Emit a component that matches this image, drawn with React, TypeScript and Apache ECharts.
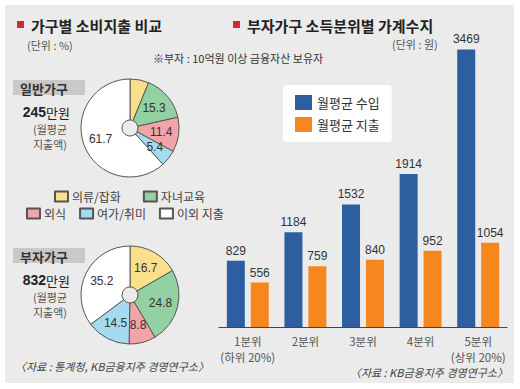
import React, { useEffect, useRef } from "react";
import * as echarts from "echarts";

const pieCategories = ["의류/잡화", "자녀교육", "외식", "여가/취미", "이외 지출"];
const pieColors = ["#fbe08c", "#93d0a2", "#f2a4a8", "#a6daf1", "#ffffff"];
const normalHousehold = [6.2, 15.3, 11.4, 5.4, 61.7];
const richHousehold = [16.7, 24.8, 8.8, 14.5, 35.2];

const quintiles = ["1분위", "2분위", "3분위", "4분위", "5분위"];
const quintileNotes = ["(하위 20%)", "", "", "", "(상위 20%)"];
const incomeSeriesName = "월평균 수입";
const spendSeriesName = "월평균 지출";
const income = [829, 1184, 1532, 1914, 3469];
const spending = [556, 759, 840, 952, 1054];

const KR = "'Noto Sans CJK KR', sans-serif";
const NUM = "'Liberation Sans Narrow', 'Liberation Sans', Arial, sans-serif";

export default function App() {
  const ref = useRef<HTMLDivElement>(null);
  useEffect(() => {
    if (!ref.current) return;
    const chart = echarts.init(ref.current, undefined, { renderer: "svg" });
    const pieData = (vals: number[]) =>
      vals.map((v, i) => ({ name: pieCategories[i], value: v, itemStyle: { color: pieColors[i] } }));
    const pieBase = {
      type: "pie",
      radius: [8, 49],
      startAngle: 90,
      clockwise: true,
      silent: true,
      itemStyle: { borderColor: "#555", borderWidth: 1 },
      label: {
        show: true,
        position: "inside",
        formatter: (p: any) => String(p.value),
        color: "#333",
        fontSize: 12,
        fontFamily: NUM,
      },
      labelLine: { show: false },
    };
    const gray = "#555";
    chart.setOption({
      animation: false,
      backgroundColor: "#ffffff",
      textStyle: { fontFamily: KR },
      graphic: [
        { type: "rect", z: -10, silent: true, shape: { x: 5, y: 5, width: 509, height: 378 }, style: { fill: "#ebebeb" } },
        { type: "rect", shape: { x: 17, y: 21, width: 7, height: 7 }, style: { fill: "#d7282f" } },
        { type: "text", x: 31, y: 25, style: { text: "가구별 소비지출 비교", font: `bold 15px ${KR}`, fill: "#222", verticalAlign: "middle" } },
        { type: "rect", shape: { x: 233, y: 21, width: 7, height: 7 }, style: { fill: "#d7282f" } },
        { type: "text", x: 247, y: 25, style: { text: "부자가구 소득분위별 가계수지", font: `bold 15px ${KR}`, fill: "#222", verticalAlign: "middle" } },
        { type: "text", x: 27, y: 45, style: { text: "(단위 : %)", font: `11px ${KR}`, fill: gray, verticalAlign: "middle" } },
        { type: "text", x: 153, y: 58, style: { text: "※부자 : 10억원 이상 금융자산 보유자", font: `11px ${KR}`, fill: "#333", verticalAlign: "middle" } },
        { type: "text", x: 392, y: 44, style: { text: "(단위 : 원)", font: `11px ${KR}`, fill: gray, verticalAlign: "middle" } },
        // normal household label
        { type: "rect", shape: { x: 13, y: 80, width: 72, height: 15 }, style: { fill: "#c9c9c9" } },
        { type: "text", x: 20, y: 88, style: { text: "일반가구", font: `bold 13px ${KR}`, fill: "#333", verticalAlign: "middle" } },
        {
          type: "text", x: 70, y: 112,
          style: {
            text: "{a|245}{b|만원}", align: "right", verticalAlign: "middle",
            rich: { a: { fontSize: 14, fontWeight: "bold", fontFamily: NUM, fill: "#222", color: "#222" }, b: { fontSize: 13, fontFamily: KR, color: "#222", fill: "#222" } },
          },
        },
        { type: "text", x: 67, y: 129, style: { text: "(월평균", font: `11px ${KR}`, fill: gray, align: "right", verticalAlign: "middle" } },
        { type: "text", x: 67, y: 144, style: { text: "지출액)", font: `11px ${KR}`, fill: gray, align: "right", verticalAlign: "middle" } },
        // rich household label
        { type: "rect", shape: { x: 13, y: 248, width: 72, height: 15 }, style: { fill: "#c9c9c9" } },
        { type: "text", x: 20, y: 256, style: { text: "부자가구", font: `bold 13px ${KR}`, fill: "#333", verticalAlign: "middle" } },
        {
          type: "text", x: 70, y: 280,
          style: {
            text: "{a|832}{b|만원}", align: "right", verticalAlign: "middle",
            rich: { a: { fontSize: 14, fontWeight: "bold", fontFamily: NUM, fill: "#222", color: "#222" }, b: { fontSize: 13, fontFamily: KR, color: "#222", fill: "#222" } },
          },
        },
        { type: "text", x: 67, y: 297, style: { text: "(월평균", font: `11px ${KR}`, fill: gray, align: "right", verticalAlign: "middle" } },
        { type: "text", x: 67, y: 312, style: { text: "지출액)", font: `11px ${KR}`, fill: gray, align: "right", verticalAlign: "middle" } },
        // footers
        { type: "text", x: 15, y: 366, style: { text: "〈자료 : 통계청, KB금융지주 경영연구소〉", font: `italic 11px ${KR}`, fill: "#444", verticalAlign: "middle" } },
        { type: "text", x: 508, y: 372, style: { text: "〈자료 : KB금융지주 경영연구소〉", font: `italic 11px ${KR}`, fill: "#444", align: "right", verticalAlign: "middle" } },
      ],
      legend: [
        {
          data: pieCategories.slice(0, 2), left: 54, top: 189, itemWidth: 13, itemHeight: 10, itemGap: 22,
          icon: "rect", selectedMode: false, padding: 0,
          textStyle: { fontSize: 12, lineHeight: 15, color: "#444", fontFamily: KR, padding: [0, 0, 0, -1] },
        },
        {
          data: pieCategories.slice(2), left: 26, top: 206, itemWidth: 13, itemHeight: 10, itemGap: 13,
          icon: "rect", selectedMode: false, padding: 0,
          textStyle: { fontSize: 12, lineHeight: 15, color: "#444", fontFamily: KR, padding: [0, 0, 0, -1] },
        },
        {
          data: [incomeSeriesName, spendSeriesName], orient: "vertical", left: 283, top: 85,
          padding: [10, 12], itemGap: 7, itemWidth: 17, itemHeight: 15, icon: "rect",
          backgroundColor: "#ffffff", borderRadius: 4, selectedMode: false,
          textStyle: { fontSize: 13, color: "#333", fontFamily: KR },
        },
      ],
      grid: { left: 219, right: 13, top: 7, bottom: 62 },
      xAxis: {
        type: "category",
        data: quintiles,
        axisLine: { lineStyle: { color: "#444" } },
        axisTick: { show: false },
        axisLabel: {
          interval: 0,
          hideOverlap: false,
          margin: 6,
          color: gray,
          fontSize: 11.5,
          lineHeight: 16,
          fontFamily: KR,
          formatter: (v: string, i: number) => (quintileNotes[i] ? `${v}\n${quintileNotes[i]}` : v),
        },
      },
      yAxis: { type: "value", min: 0, max: 4000, show: false, splitLine: { show: false } },
      series: [
        { ...pieBase, name: "일반가구", center: [130, 128], data: pieData(normalHousehold) },
        { ...pieBase, name: "부자가구", center: [130, 295], data: pieData(richHousehold) },
        {
          type: "bar", name: incomeSeriesName, data: income, barWidth: 18, barGap: "33%",
          itemStyle: { color: "#2c5ea0" },
          label: { show: true, position: "top", distance: 4, color: "#333", fontSize: 12, fontFamily: NUM },
        },
        {
          type: "bar", name: spendSeriesName, data: spending, barWidth: 18, barGap: "33%",
          itemStyle: { color: "#f6871f" },
          label: { show: true, position: "top", distance: 4, color: "#333", fontSize: 12, fontFamily: NUM },
        },
      ],
    });
    return () => chart.dispose();
  }, []);
  return <div ref={ref} style={{ position: "fixed", left: 0, top: 0, width: 520, height: 389 }} />;
}
